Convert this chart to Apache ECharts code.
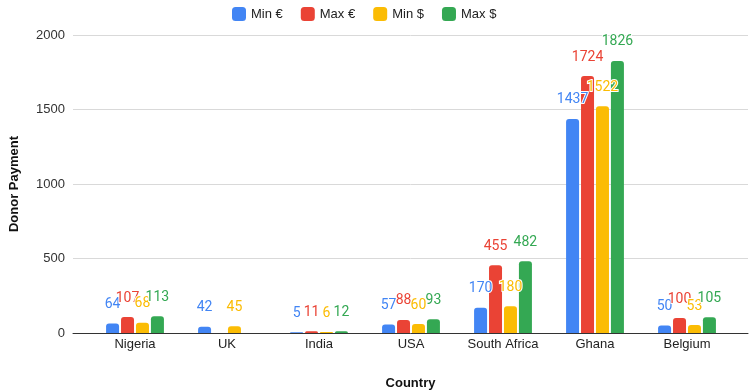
<!DOCTYPE html>
<html>
<head>
<meta charset="utf-8">
<script src="https://cdn.jsdelivr.net/npm/echarts@6/dist/echarts.min.js"></script>
<style>
  html, body { margin: 0; padding: 0; background: #fff; }
  #chart { width: 749px; height: 391px; }
</style>
</head>
<body>
<div id="chart"></div>
<script>
var countries = ['Nigeria', 'UK', 'India', 'USA', 'South Africa', 'Ghana', 'Belgium'];
var minEur = [64, 42, 5, 57, 170, 1437, 50];
var maxEur = [107, null, 11, 88, 455, 1724, 100];
var minUsd = [68, 45, 6, 60, 180, 1522, 53];
var maxUsd = [113, null, 12, 93, 482, 1826, 105];
var seriesNames = ['Min €', 'Max €', 'Min $', 'Max $'];
var colors = ['#4285F4', '#EA4335', '#FBBC04', '#34A853'];

var myChart = echarts.init(document.getElementById('chart'));

function barSeries(name, values, color) {
  return {
    name: name,
    type: 'bar',
    xAxisIndex: 1,
    yAxisIndex: 1,
    data: values,
    barWidth: 13,
    barGap: '15%',
    itemStyle: { color: color, borderRadius: [3, 3, 0, 0] },
    label: {
      show: true,
      position: 'top',
      distance: 12,
      color: color,
      fontFamily: 'Roboto',
      fontSize: 14,
      textBorderColor: '#fff',
      textBorderWidth: 2
    }
  };
}

var option = {
  animation: false,
  color: colors,
  textStyle: { fontFamily: 'Liberation Sans, Arial, sans-serif' },
  legend: {
    top: 2,
    left: 227,
    icon: 'roundRect',
    itemWidth: 14,
    itemHeight: 14,
    itemGap: 18,
    textStyle: { fontSize: 13, color: '#222' },
    data: seriesNames
  },
  grid: [
    { left: 73, right: 1, top: 35, bottom: 58, outerBoundsMode: 'none' },
    { left: 89, right: 16, top: 35, bottom: 58, outerBoundsMode: 'none' }
  ],
  xAxis: [
    {
      gridIndex: 0,
      type: 'category',
      data: countries,
      axisLine: { lineStyle: { color: '#333', width: 1 } },
      axisTick: { show: false },
      axisLabel: { show: false },
      name: 'Country',
      nameLocation: 'middle',
      nameGap: 44,
      nameTextStyle: { fontWeight: 'bold', fontSize: 13, color: '#111' }
    },
    {
      gridIndex: 1,
      type: 'category',
      data: countries,
      axisLine: { show: false },
      axisTick: { show: false },
      axisLabel: { interval: 0, fontSize: 13, color: '#222', margin: 5 }
    }
  ],
  yAxis: [
    {
      gridIndex: 0,
      type: 'value',
      min: 0,
      max: 2000,
      interval: 500,
      axisLine: { show: false },
      axisTick: { show: false },
      axisLabel: { fontSize: 13, color: '#333', margin: 8, formatter: function (v) { return String(v); } },
      splitLine: { lineStyle: { color: '#d9d9d9' } },
      name: 'Donor Payment',
      nameLocation: 'middle',
      nameGap: 52,
      nameTextStyle: { fontWeight: 'bold', fontSize: 13, color: '#111' }
    },
    {
      gridIndex: 1,
      type: 'value',
      min: 0,
      max: 2000,
      interval: 500,
      show: false
    }
  ],
  series: [
    barSeries(seriesNames[0], minEur, colors[0]),
    barSeries(seriesNames[1], maxEur, colors[1]),
    barSeries(seriesNames[2], minUsd, colors[2]),
    barSeries(seriesNames[3], maxUsd, colors[3])
  ]
};
myChart.setOption(option);
</script>
</body>
</html>
